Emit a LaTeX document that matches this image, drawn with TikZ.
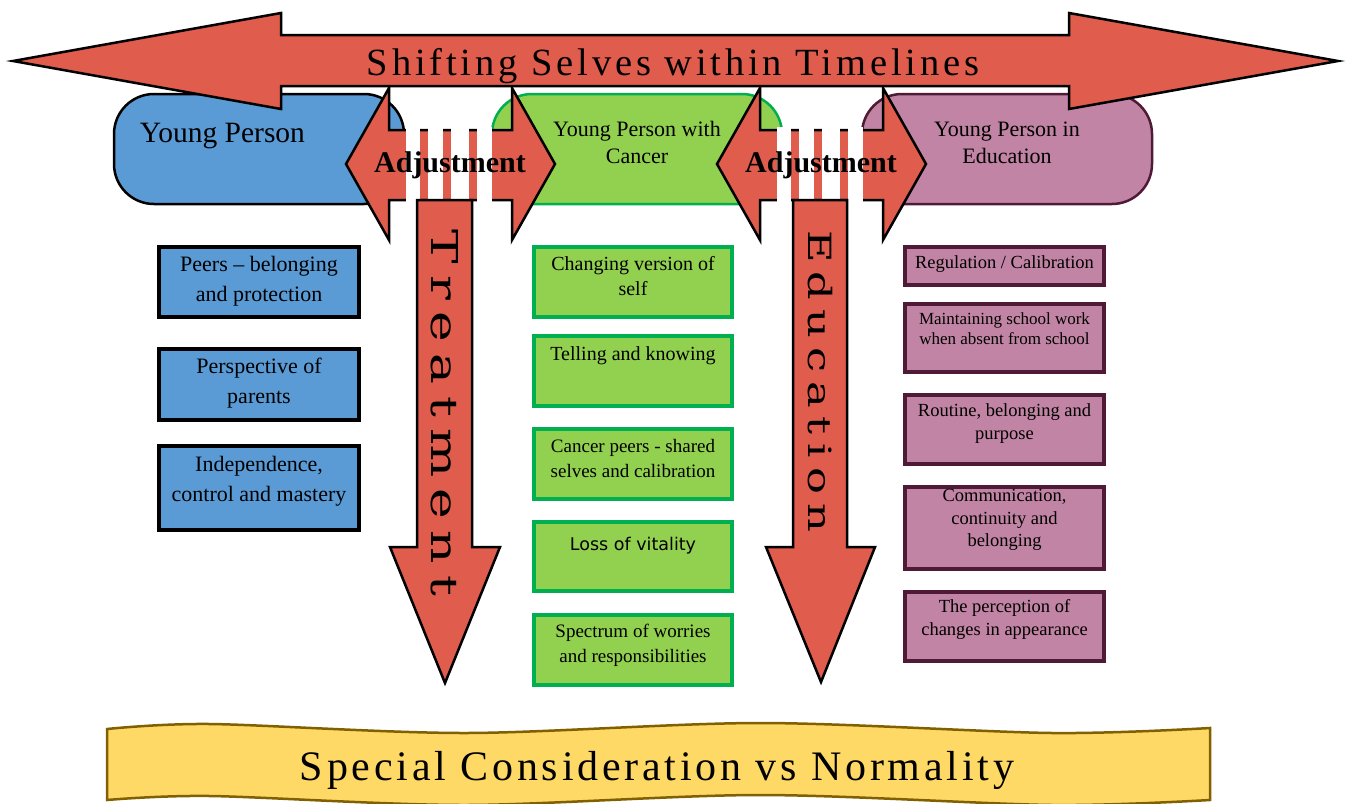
\documentclass[tikz,border=0pt]{standalone}
\usepackage{graphicx}
\usepackage{fontspec}
\setmainfont{Liberation Serif}
\newfontfamily\dvserif{DejaVu Serif}
\newfontfamily\dvsans{DejaVu Sans}
\definecolor{arrowred}{HTML}{E05C4D}
\definecolor{boxblue}{HTML}{5B9BD5}
\definecolor{boxgreen}{HTML}{92D050}
\definecolor{greenline}{HTML}{00B050}
\definecolor{boxpurple}{HTML}{C284A4}
\definecolor{purpleline}{HTML}{4F1A35}
\definecolor{banneryellow}{HTML}{FFD966}
\definecolor{bannerline}{HTML}{806000}
\newcommand{\adjarrow}[2]{%
  \begin{scope}[shift={(#1,0)}]
    \draw[redshape] (-43,164) -- (0,88) -- (0,130) -- (123,130) -- (123,88) -- (166,164)
      -- (123,240) -- (123,200) -- (0,200) -- (0,240) -- cycle;
    \fill[white] (17,127) rectangle (31,203);
    \fill[white] (39,127) rectangle (54,203);
    \fill[white] (62,127) rectangle (80,203);
    \fill[white] (88,127) rectangle (103,203);
    \node[lbl, font=\fontsize{30}{34}\selectfont\bfseries, anchor=base] (#2) at (61,172) {Adjustment};
  \end{scope}}
\begin{document}
\begin{tikzpicture}[x=1pt,y=-1pt,
  redshape/.style={fill=arrowred, draw=black, line width=2.5pt, line join=miter},
  pill/.style={rectangle, rounded corners=40pt, line width=2.5pt, minimum width=290pt, minimum height=110pt, inner sep=0pt},
  boxbase/.style={rectangle, line width=4pt, inner sep=0pt},
  bluebox/.style={boxbase, fill=boxblue, draw=black, minimum width=200pt},
  greenbox/.style={boxbase, fill=boxgreen, draw=greenline, minimum width=198pt},
  purplebox/.style={boxbase, fill=boxpurple, draw=purpleline, minimum width=199pt},
  lbl/.style={inner sep=0pt, align=center},
  bluetxt/.style={lbl, font=\fontsize{22}{30}\selectfont},
  greentxt/.style={lbl, font=\fontsize{20}{25}\selectfont},
  purpletxt/.style={lbl, font=\fontsize{18.5}{22.5}\selectfont},
  banner/.style={fill=banneryellow, draw=bannerline, line width=2.5pt}
]
\path[use as bounding box] (0,0) rectangle (1349,803);

% pills
\node[pill, fill=boxblue, draw=black] (yp) at (259,149) {};
\node[pill, fill=boxgreen, draw=greenline] (ypc) at (637,149) {};
\node[pill, fill=boxpurple, draw=purpleline] (ype) at (1007,149) {};
\node[lbl, anchor=base, font=\fontsize{29.5}{34}\selectfont] (yptxt) at (222.5,142) {Young Person};
\node[lbl, font=\fontsize{22}{27}\selectfont] (ypctxt) at (637,145) {\strut Young Person with\\\strut Cancer};
\node[lbl, font=\fontsize{22}{27}\selectfont] (ypetxt) at (1007,145) {\strut Young Person in\\\strut Education};

% adjustment arrows
\adjarrow{389}{adj1}
\adjarrow{760}{adj2}

% down arrows
\draw[redshape] (417,200) -- (472,200) -- (472,547) -- (500,547) -- (445,683) -- (390,547) -- (417,547) -- cycle;
\draw[redshape] (793,200) -- (847,200) -- (847,547) -- (875,547) -- (821,682) -- (766,547) -- (793,547) -- cycle;
\node[lbl, rotate=-90, font=\dvserif\fontsize{37}{40}\selectfont\addfontfeatures{LetterSpace=22}] (treat) at (445,413) {\scalebox{1.4}[1]{Treatment}};
\node[lbl, rotate=-90, font=\dvserif\fontsize{32}{36}\selectfont\addfontfeatures{LetterSpace=20}] (educ) at (820,381) {\scalebox{1.4}[1]{Education}};

% top arrow
\draw[redshape] (13,61) -- (281,13) -- (281,35) -- (1069,35) -- (1069,13) -- (1338,61)
  -- (1069,109) -- (1069,86) -- (281,86) -- (281,109) -- cycle;
\node[lbl, anchor=base, font=\fontsize{38.5}{44}\selectfont\addfontfeatures{LetterSpace=10}] (title) at (673,75) {Shifting Selves within Timelines};

% blue boxes
\node[bluebox, minimum height=70pt] (b1) at (259,282) {};
\node[bluetxt] (b1t) at (259,280) {\strut Peers -- belonging\\\strut and protection};
\node[bluebox, minimum height=71pt] (b2) at (259,384.5) {};
\node[bluetxt] (b2t) at (259,382) {\strut Perspective of\\\strut parents};
\node[bluebox, minimum height=84pt] (b3) at (259,488) {};
\node[bluetxt] (b3t) at (259,480) {\strut Independence,\\\strut control and mastery};

% green boxes
\node[greenbox, minimum height=70pt] (g1) at (633,282) {};
\node[greentxt] (g1t) at (633,277.5) {\strut Changing version of\\\strut self};
\node[greenbox, minimum height=70pt] (g2) at (633,371) {};
\node[greentxt] (g2t) at (633,355) {\strut Telling and knowing};
\node[greenbox, minimum height=70pt] (g3) at (633,464) {};
\node[greentxt, font=\fontsize{19}{25}\selectfont] (g3t) at (633,459.5) {\strut Cancer peers - shared\\\strut selves and calibration};
\node[greenbox, minimum height=69pt] (g4) at (633,556.5) {};
\node[greentxt, font=\dvsans\fontsize{17.5}{25}\selectfont] (g4t) at (633,545) {\strut Loss of vitality};
\node[greenbox, minimum height=70pt] (g5) at (633,650) {};
\node[greentxt, font=\fontsize{19}{25}\selectfont] (g5t) at (633,644.5) {\strut Spectrum of worries\\\strut and responsibilities};

% purple boxes
\node[purplebox, minimum height=38pt] (p1) at (1004.5,266) {};
\node[purpletxt] (p1t) at (1004.5,264) {\strut Regulation / Calibration};
\node[purplebox, minimum height=68pt] (p2) at (1004.5,338) {};
\node[purpletxt, font=\fontsize{17}{20}\selectfont] (p2t) at (1004.5,330) {\strut Maintaining school work\\\strut when absent from school};
\node[purplebox, minimum height=69pt] (p3) at (1004.5,429.5) {};
\node[purpletxt] (p3t) at (1004.5,423.5) {\strut Routine, belonging and\\\strut purpose};
\node[purplebox, minimum height=82pt] (p4) at (1004.5,528) {};
\node[purpletxt] (p4t) at (1004.5,519.5) {\strut Communication,\\\strut continuity and\\\strut belonging};
\node[purplebox, minimum height=69pt] (p5) at (1004.5,626.5) {};
\node[purpletxt] (p5t) at (1004.5,619.5) {\strut The perception of\\\strut changes in appearance};

% banner
\draw[banner] plot[smooth] coordinates {(107,729) (210,724) (466,733) (760,723) (1052,733) (1210,728)}
  -- plot[smooth] coordinates {(1210,800) (1052,805) (760,795) (466,805) (210,796) (107,800)} -- cycle;
\node[lbl, anchor=base, font=\fontsize{42}{48}\selectfont\addfontfeatures{LetterSpace=9}] (sc) at (657,780) {Special Consideration vs Normality};
\end{tikzpicture}
\end{document}
